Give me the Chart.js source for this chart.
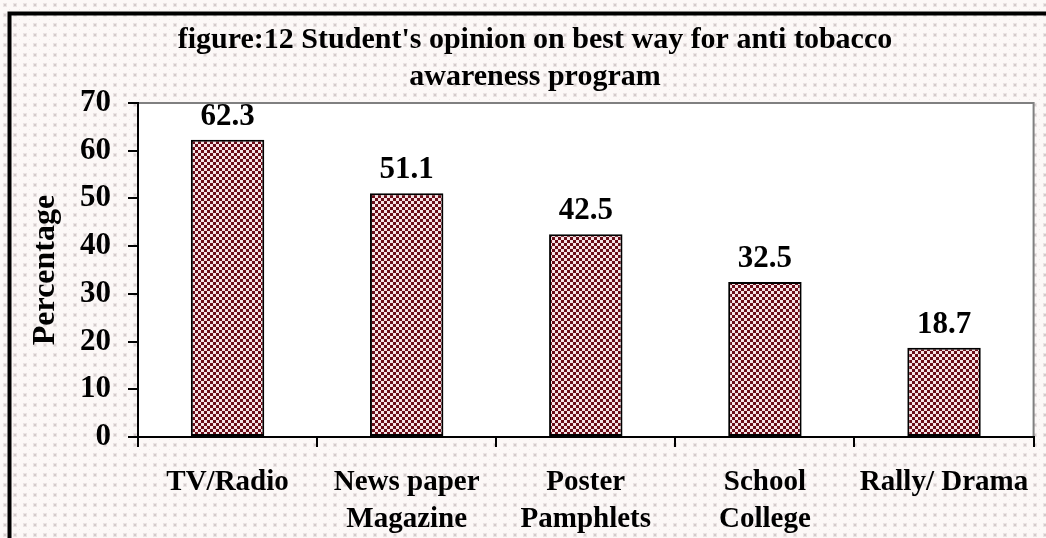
<!DOCTYPE html>
<html><head><meta charset="utf-8">
<script src="https://cdn.jsdelivr.net/npm/chart.js@4/dist/chart.umd.min.js"></script>
<style>html,body{margin:0;padding:0;background:#fff;overflow:hidden}</style>
</head><body>
<canvas id="c" width="1046" height="538" style="display:block;width:1046px;height:538px"></canvas>
<script>
// ---- data ----
const categories = [["TV/Radio"], ["News paper", "Magazine"], ["Poster", "Pamphlets"], ["School", "College"], ["Rally/ Drama"]];
const percentages = [62.3, 51.1, 42.5, 32.5, 18.7];
const yTicks = [0, 10, 20, 30, 40, 50, 60, 70];
const titleLines = ["figure:12 Student's opinion on best way for anti tobacco", "awareness program"];
const yTitle = "Percentage";

const FONT = "'Liberation Serif', 'Times New Roman', serif";

function makeBarPattern() {
  const c = document.createElement('canvas');
  c.width = 6; c.height = 6;
  const g = c.getContext('2d');
  g.fillStyle = '#6b0d18'; g.fillRect(0, 0, 6, 6);
  g.fillStyle = '#f6e3e5';
  g.fillRect(0, 0, 3, 3); g.fillRect(3, 3, 3, 3);
  return g.createPattern(c, 'repeat');
}
function makeBgPattern(ctx) {
  const c = document.createElement('canvas');
  c.width = 10; c.height = 10;
  const g = c.getContext('2d');
  g.fillStyle = '#fcf8f7'; g.fillRect(0, 0, 10, 10);
  g.fillStyle = '#ebe4e4'; g.fillRect(3, 3, 4, 4);
  g.fillStyle = '#d3cbcb'; g.fillRect(4, 4, 2, 2);
  g.fillStyle = '#efe9e9'; g.fillRect(9, 9, 1, 1);
  return ctx.createPattern(c, 'repeat');
}

const backdrop = {
  id: 'backdrop',
  afterLayout(chart) {
    const t = chart.titleBlock;
    if (t) { t.left += 32; }
  },
  beforeDraw(chart) {
    const ctx = chart.ctx, a = chart.chartArea;
    ctx.save();
    ctx.fillStyle = makeBgPattern(ctx);
    ctx.fillRect(0, 0, chart.width, chart.height);
    ctx.fillStyle = '#ffffff';
    ctx.fillRect(a.left, a.top, a.right - a.left, a.bottom - a.top);
    ctx.strokeStyle = '#808080';
    ctx.lineWidth = 2;
    ctx.beginPath();
    ctx.moveTo(a.left, a.top); ctx.lineTo(a.right, a.top); ctx.lineTo(a.right, a.bottom);
    ctx.stroke();
    ctx.strokeStyle = '#000';
    ctx.lineWidth = 4;
    ctx.beginPath();
    ctx.moveTo(9.5, chart.height); ctx.lineTo(9.5, 13.5); ctx.lineTo(chart.width, 13.5);
    ctx.stroke();
    ctx.restore();
  }
};

const valueLabels = {
  id: 'valueLabels',
  afterDatasetsDraw(chart) {
    const ctx = chart.ctx;
    const meta = chart.getDatasetMeta(0);
    ctx.save();
    ctx.font = 'bold 31px ' + FONT;
    ctx.fillStyle = '#000';
    ctx.textAlign = 'center';
    ctx.textBaseline = 'alphabetic';
    meta.data.forEach((bar, i) => {
      ctx.fillText(String(chart.data.datasets[0].data[i]), bar.x, bar.y - 15);
    });
    ctx.restore();
  }
};

new Chart(document.getElementById('c'), {
  type: 'bar',
  data: {
    labels: categories,
    datasets: [{
      data: percentages,
      backgroundColor: makeBarPattern(),
      borderColor: '#000',
      borderWidth: 2,
      borderSkipped: false,
      categoryPercentage: 1,
      barPercentage: 0.41
    }]
  },
  options: {
    responsive: false,
    animation: false,
    devicePixelRatio: 1,
    layout: { padding: { left: 0, right: 8, top: 0, bottom: 0 } },
    plugins: {
      legend: { display: false },
      tooltip: { enabled: false },
      title: {
        display: true,
        text: titleLines,
        color: '#000',
        font: { family: FONT, size: 30, weight: 'bold', lineHeight: 37 / 30 },
        padding: { top: 22, bottom: 7 }
      }
    },
    scales: {
      x: {
        afterFit(s) { s.height = 101; },
        grid: { display: true, offset: true, drawOnChartArea: false, drawTicks: true, tickLength: 10, color: '#000', lineWidth: 2 },
        border: { display: true, color: '#000', width: 2 },
        ticks: {
          color: '#000', padding: 17, maxRotation: 0, autoSkip: false,
          font: { family: FONT, size: 29, weight: 'bold', lineHeight: 37 / 29 }
        }
      },
      y: {
        min: 0, max: 70,
        afterBuildTicks(s) { s.ticks = yTicks.map(v => ({ value: v })); },
        afterFit(s) { s.width = 138; },
        grid: { display: true, drawOnChartArea: false, drawTicks: true, tickLength: 10, color: '#000', lineWidth: 2 },
        border: { display: true, color: '#000', width: 2 },
        ticks: { color: '#000', padding: 17, font: { family: FONT, size: 31, weight: 'bold' } },
        title: {
          display: true, text: yTitle, color: '#000',
          font: { family: FONT, size: 32, weight: 'bold', lineHeight: 1.2 },
          padding: { top: 27, bottom: 0 }
        }
      }
    }
  },
  plugins: [backdrop, valueLabels]
});
</script>
</body></html>
